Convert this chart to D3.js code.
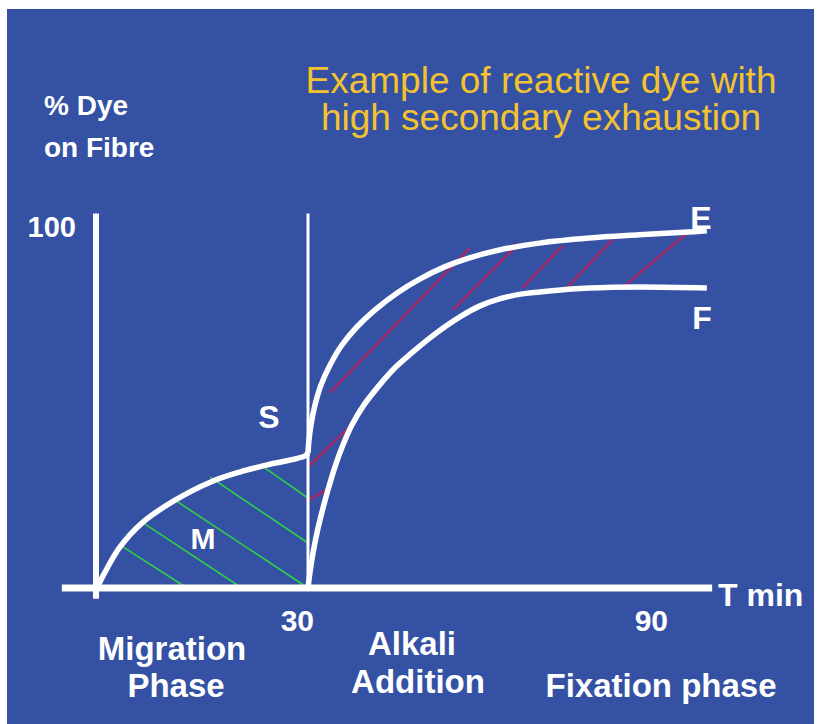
<!DOCTYPE html>
<html>
<head>
<meta charset="utf-8">
<script src="https://cdn.jsdelivr.net/npm/d3@7"></script>
<style>
  body { margin: 0; background: #fff; }
  text { font-family: "Liberation Sans", Arial, sans-serif; }
</style>
</head>
<body>
<div id="chart"></div>
<script>
// migration phase curve (time in min, % dye on fibre)
const migration = [
  [0, 0], [1.14, 4.4], [3.27, 11.4], [6.54, 18.3], [11.1, 24.4], [16.1, 29.4],
  [20.3, 32.2], [24.2, 34.2], [29.6, 36.7], [30, 37.5]
];
// exhaustion curve E
const curveE = [
  [30, 37.5], [30.17, 41.1], [30.51, 45.3], [31.18, 50.8], [32.2, 56.4],
  [33.72, 61.9], [35.75, 67.5], [38.28, 72.5], [41.32, 77.2], [45.04, 81.9],
  [48.93, 85.8], [53.15, 89.2], [57.38, 91.7], [62.45, 93.9], [69.21, 95.8],
  [77.66, 97.2], [86.11, 98.1], [94.56, 98.9], [97.6, 99.2]
];
// fixation curve F
const curveF = [
  [30, 0], [30.34, 4.4], [30.85, 9.7], [31.52, 15.3], [32.37, 21.1], [33.38, 27.2],
  [34.56, 33.6], [35.92, 39.7], [37.44, 45.3], [39.46, 50.8], [41.83, 55.8],
  [44.7, 61.1], [47.58, 65.3], [50.62, 69.4], [53.15, 72.5], [56.03, 75.6],
  [59.07, 78.3], [62.45, 80.3], [66.34, 81.7], [70.9, 82.5], [77.66, 83.3],
  [86.11, 83.6], [97.6, 83.3]
];
// hatch strokes [t1, y1, t2, y2]
const hatchM = [
  [3.3, 11.9, 12.8, 0], [6.4, 18.3, 20.6, 0], [11.1, 24.4, 30, 0],
  [16.1, 30.8, 30, 12.5], [23.9, 33.3, 30, 25]
];
const hatchEF = [
  [30, 33.6, 37.4, 45.3], [30, 24.4, 33.7, 27.8], [33.7, 54.2, 57.4, 94.4],
  [54.5, 77.2, 65.8, 95.8], [66.3, 83.3, 73.1, 95], [73.8, 83.3, 82.7, 98.6],
  [83.2, 83.3, 94.5, 98.9]
];
const xTicks = [30, 90];
const yTicks = [100];
const alkaliTime = 30;
const xExtent = [-5, 98.5];
const yExtent = [-3, 104];
const titleLines = ["Example of reactive dye with", "high secondary exhaustion"];
const yLabelLines = ["% Dye", "on Fibre"];

const W = 817, H = 724;
const blue = "#3451a3";

const svg = d3.select("#chart").append("svg")
  .attr("width", W).attr("height", H);

svg.append("rect")
  .attr("x", 7).attr("y", 9)
  .attr("width", 807).attr("height", H - 9)
  .attr("fill", blue);

// piecewise scale: the sketch is compressed after alkali addition
const x = d3.scaleLinear().domain([0, 30, 90]).range([97, 308, 662]);
const y = d3.scaleLinear().domain([0, 100]).range([588, 228]);

const line = d3.line()
  .x(d => x(d[0]))
  .y(d => y(d[1]))
  .curve(d3.curveCatmullRom.alpha(0.5));

// hatching first so the curves sit on top
svg.append("g").selectAll("line")
  .data(hatchM).enter().append("line")
  .attr("x1", d => x(d[0])).attr("y1", d => y(d[1]))
  .attr("x2", d => x(d[2])).attr("y2", d => y(d[3]))
  .attr("stroke", "#2fcf4a").attr("stroke-width", 1.6);

svg.append("g").selectAll("line")
  .data(hatchEF).enter().append("line")
  .attr("x1", d => x(d[0])).attr("y1", d => y(d[1]))
  .attr("x2", d => x(d[2])).attr("y2", d => y(d[3]))
  .attr("stroke", "#a02a6a").attr("stroke-width", 2.6);

// axes
svg.append("line")
  .attr("x1", x(xExtent[0])).attr("x2", x(xExtent[1]))
  .attr("y1", y(0)).attr("y2", y(0))
  .attr("stroke", "#fff").attr("stroke-width", 7);

svg.append("line")
  .attr("x1", x(0) - 1).attr("x2", x(0) - 1)
  .attr("y1", y(yExtent[0])).attr("y2", y(yExtent[1]))
  .attr("stroke", "#fff").attr("stroke-width", 6);

svg.append("line")
  .attr("x1", x(alkaliTime)).attr("x2", x(alkaliTime))
  .attr("y1", y(0)).attr("y2", y(yExtent[1]))
  .attr("stroke", "#fff").attr("stroke-width", 3);

[migration, curveE, curveF].forEach(c => {
  svg.append("path")
    .datum(c)
    .attr("d", line)
    .attr("fill", "none")
    .attr("stroke", "#fff")
    .attr("stroke-width", 5.5)
    .attr("stroke-linejoin", "round");
});

// tick labels
svg.selectAll(".xtick")
  .data(xTicks).enter().append("text")
  .attr("class", "xtick")
  .attr("x", d => x(d) + 6)
  .attr("y", 631)
  .attr("text-anchor", "end")
  .attr("fill", "#fff")
  .attr("font-weight", "bold")
  .attr("font-size", 30)
  .text(d => d);

svg.selectAll(".ytick")
  .data(yTicks).enter().append("text")
  .attr("class", "ytick")
  .attr("x", 76)
  .attr("y", d => y(d) + 9)
  .attr("text-anchor", "end")
  .attr("fill", "#fff")
  .attr("font-weight", "bold")
  .attr("font-size", 29)
  .text(d => d);

// title
svg.append("g").selectAll("text")
  .data(titleLines).enter().append("text")
  .attr("x", 541)
  .attr("y", (d, i) => 93 + i * 37)
  .attr("text-anchor", "middle")
  .attr("fill", "#f2c230")
  .attr("font-size", 37)
  .text(d => d);

// y label
svg.append("g").selectAll("text")
  .data(yLabelLines).enter().append("text")
  .attr("x", 44)
  .attr("y", (d, i) => 115 + i * 42)
  .attr("fill", "#fff")
  .attr("font-weight", "bold")
  .attr("font-size", 28)
  .text(d => d);

const label = (txt, px, py, size, anchor) => svg.append("text")
  .attr("x", px).attr("y", py)
  .attr("text-anchor", anchor || "middle")
  .attr("fill", "#fff")
  .attr("font-weight", "bold")
  .attr("font-size", size)
  .text(txt);

label("T min", 718, 606, 32, "start");
label("S", 269, 428, 32);
label("M", 203, 549, 30);
label("E", 701, 229, 32);
label("F", 702, 329, 32);
label("Migration", 172, 660, 33);
label("Phase", 176, 697, 33);
label("Alkali", 412, 655, 33);
label("Addition", 418, 693, 33);
label("Fixation phase", 661, 697, 33);
</script>
</body>
</html>
